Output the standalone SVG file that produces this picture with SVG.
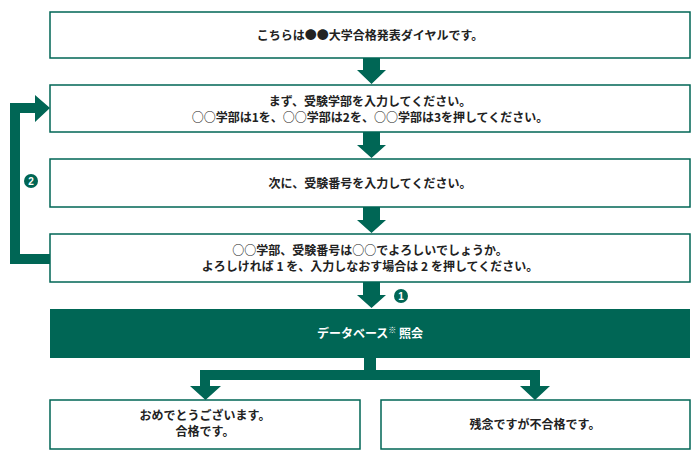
<svg xmlns="http://www.w3.org/2000/svg" width="700" height="460" viewBox="0 0 700 460">
<style>
.b{fill:#fff;stroke:#006655;stroke-width:1.5}
.t{font-family:"Noto Sans CJK JP","Liberation Sans",sans-serif;font-size:12px;fill:#222;text-anchor:middle;font-weight:bold}
.g{fill:#006655}
.n{font-family:"Liberation Sans",sans-serif;font-size:10px;font-weight:bold;fill:#fff;text-anchor:middle}
</style>
<rect width="700" height="460" fill="#fff"/>
<g id="connectors" class="g">
<polygon points="363,58 380,58 380,70 386,70 371.5,84 357,70 363,70"/>
<polygon points="363,132 380,132 380,145 386,145 371.5,158 357,145 363,145"/>
<polygon points="363,207 380,207 380,220 386,220 371.5,233 357,220 363,220"/>
<polygon points="363,282 380,282 380,295 386,295 371.5,308 357,295 363,295"/>
<polygon points="10,264 50,264 50,254 20,254 20,113 35,113 35,122 50,108 35,95 35,103 10,103"/>
<polygon points="364,358 376,358 376,370 540,370 540,386 550,386 535,400 520,386 530,386 530,380 210,380 210,386 221,386 205.5,400 190,386 200,386 200,370 364,370"/>
<circle cx="31" cy="181" r="7"/>
<text class="n" x="31" y="185">2</text>
<circle cx="401" cy="296" r="7"/>
<text class="n" x="401" y="300">1</text>
</g>
<g id="n1"><rect class="b" x="50" y="12" width="640" height="46"/><text class="t" x="370" y="40">こちらは●●大学合格発表ダイヤルです。</text></g>
<g id="n2"><rect class="b" x="50" y="85" width="640" height="47"/><text class="t" x="370" y="106">まず、受験学部を入力してください。</text><text class="t" x="370" y="122">○○学部は1を、○○学部は2を、○○学部は3を押してください。</text></g>
<g id="n3"><rect class="b" x="50" y="159" width="640" height="48"/><text class="t" x="370" y="188">次に、受験番号を入力してください。</text></g>
<g id="n4"><rect class="b" x="50" y="234" width="640" height="48"/><text class="t" x="370" y="255">○○学部、受験番号は○○でよろしいでしょうか。</text><text class="t" x="370" y="271">よろしければ 1 を、入力しなおす場合は 2 を押してください。</text></g>
<g id="n5"><rect x="50" y="309" width="640" height="49" fill="#006655"/><text class="t" x="370" y="338" style="fill:#fff">データベース<tspan font-size="8" dy="-5">※</tspan><tspan dy="5"> 照会</tspan></text></g>
<g id="n6"><rect class="b" x="50" y="400" width="310" height="49"/><text class="t" x="205" y="420">おめでとうございます。</text><text class="t" x="205" y="436">合格です。</text></g>
<g id="n7"><rect class="b" x="381" y="400" width="309" height="49"/><text class="t" x="535" y="429">残念ですが不合格です。</text></g>
</svg>
